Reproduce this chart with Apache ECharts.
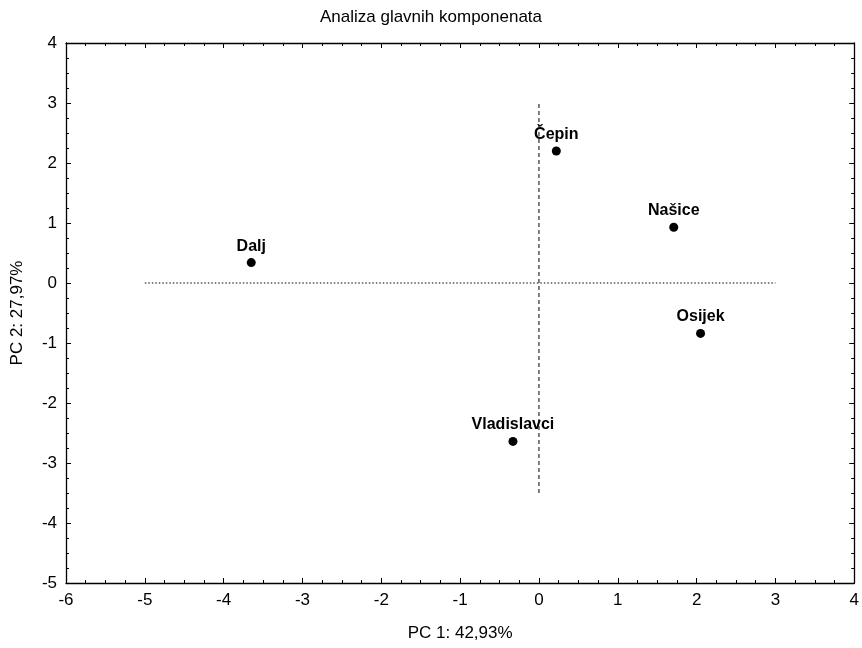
<!DOCTYPE html>
<html><head><meta charset="utf-8">
<script src="https://cdn.jsdelivr.net/npm/echarts@6/dist/echarts.min.js"></script>
<style>html,body{margin:0;padding:0;background:#fff}#c{width:862px;height:648px}</style>
</head><body><div id="c"></div>
<script>
const names = ["Čepin", "Našice", "Osijek", "Dalj", "Vladislavci"];
const pc1 = [0.22, 1.71, 2.05, -3.65, -0.33];
const pc2 = [2.2, 0.93, -0.84, 0.34, -2.64];
const hLine = [[-5, 0], [3, 0]];
const vLine = [[0, -3.5], [0, 3]];
const title = "Analiza glavnih komponenata";
const xName = "PC 1: 42,93%";
const yName = "PC 2: 27,97%";

const font = "Arial, 'Liberation Sans', sans-serif";
const chart = echarts.init(document.getElementById('c'));
const common = {
  axisLine: {show: true, onZero: false, lineStyle: {color: '#000', width: 1.3}},
  axisTick: {show: true, inside: true, length: 5, lineStyle: {color: '#000'}},
  minorTick: {show: true, splitNumber: 4, length: 3, lineStyle: {color: '#000'}},
  splitLine: {show: false}
};
chart.setOption({
  animation: false,
  title: {text: title, left: 'center', top: 4, textStyle: {fontFamily: font, fontSize: 17, fontWeight: 'normal', color: '#000'}},
  grid: {left: 66, right: 7, top: 43, bottom: 65},
  xAxis: [
    Object.assign({type: 'value', min: -6, max: 4, interval: 1, position: 'bottom',
      name: xName, nameLocation: 'middle', nameGap: 42,
      nameTextStyle: {fontFamily: font, fontSize: 17, color: '#000'},
      axisLabel: {fontFamily: font, fontSize: 17, color: '#000', margin: 9}}, common),
    Object.assign({type: 'value', min: -6, max: 4, interval: 1, position: 'top',
      axisLabel: {show: false}}, common)
  ],
  yAxis: [
    Object.assign({type: 'value', min: -5, max: 4, interval: 1, position: 'left',
      name: yName, nameLocation: 'middle', nameGap: 40,
      nameTextStyle: {fontFamily: font, fontSize: 17, color: '#000'},
      axisLabel: {fontFamily: font, fontSize: 17, color: '#000', margin: 9}}, common),
    Object.assign({type: 'value', min: -5, max: 4, interval: 1, position: 'right',
      axisLabel: {show: false}}, common)
  ],
  series: [
    {type: 'line', data: hLine, symbol: 'none', silent: true,
      lineStyle: {color: '#000', width: 1, type: [1.5, 2]}},
    {type: 'line', data: vLine, symbol: 'none', silent: true,
      lineStyle: {color: '#000', width: 1, type: [4, 3]}},
    {type: 'scatter', symbolSize: 9, itemStyle: {color: '#000', opacity: 1},
      data: names.map((n, i) => ({name: n, value: [pc1[i], pc2[i]]})),
      label: {show: true, position: 'top', distance: 4, formatter: '{b}',
        fontFamily: font, fontSize: 16, fontWeight: 'bold', color: '#000'}}
  ]
});
</script></body></html>
